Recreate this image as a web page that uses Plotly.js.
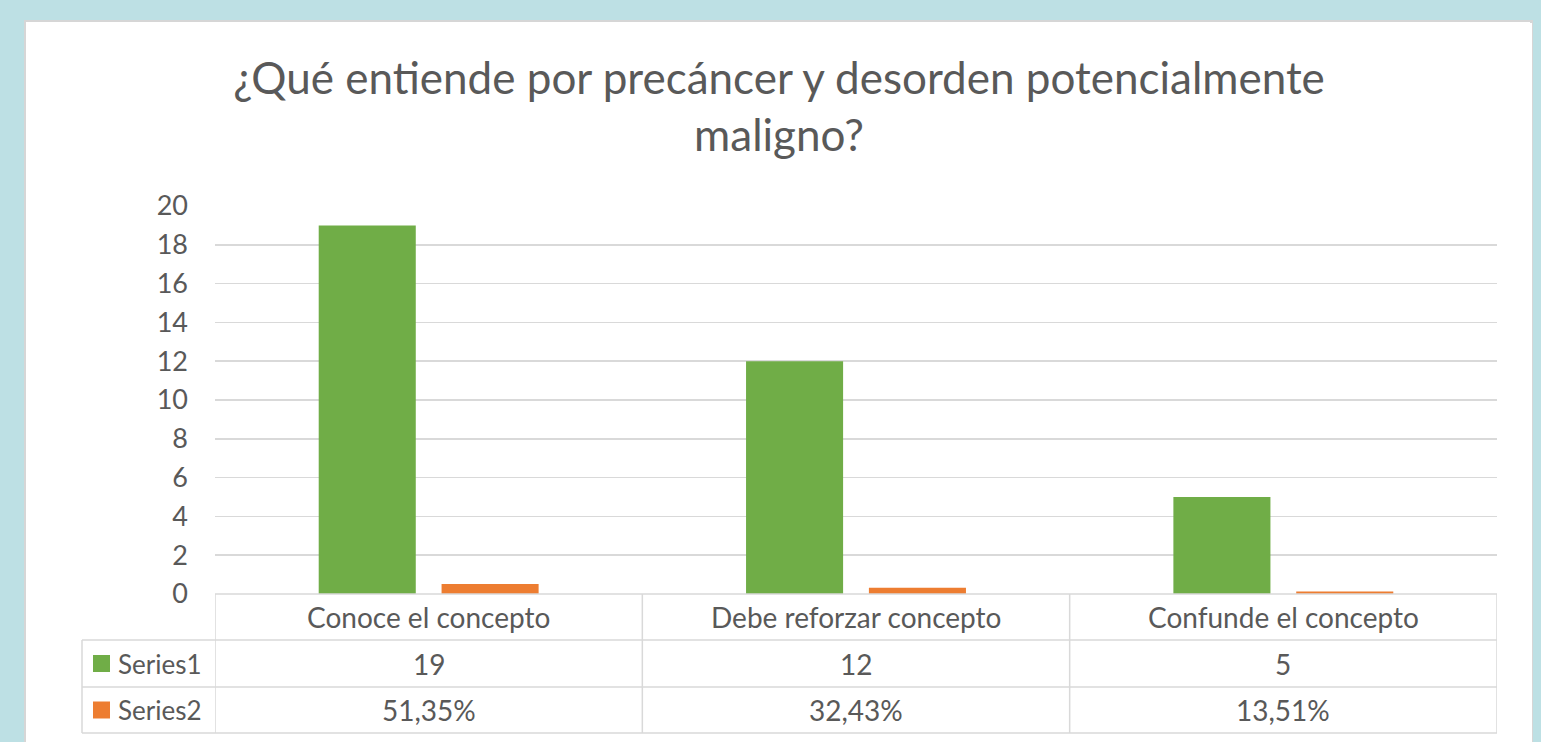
<!DOCTYPE html>
<html>
<head>
<meta charset="utf-8">
<script src="https://cdn.plot.ly/plotly-3.0.1.min.js"></script>
<style>
  html, body { margin:0; padding:0; width:1541px; height:742px; background:#bde0e4; overflow:hidden; }
  #panel { position:absolute; left:24px; top:20px; width:1509px; height:722px; background:#ffffff;
           border-left:2px solid #d6d6d6; border-top:2px solid #d6d6d6; border-right:3px solid #d6d6d6; box-sizing:border-box; }
  #chart { position:absolute; left:26px; top:23px; width:1506px; height:719px; }
</style>
</head>
<body>
<div id="panel"></div>
<div id="chart"></div>
<script>
// ---- data ----
const categories = ["Conoce el concepto", "Debe reforzar concepto", "Confunde el concepto"];
const series1 = [19, 12, 5];
const series2 = [0.5135, 0.3243, 0.1351];
const seriesNames = ["Series1", "Series2"];
const yTicks = [0, 2, 4, 6, 8, 10, 12, 14, 16, 18, 20];
const titleText = "¿Qué entiende por precáncer y desorden potencialmente<br>maligno?";

// ---- styles / geometry ----
const GREEN = "#70ad47", ORANGE = "#ed7d31", TXT = "#595959", LINE = "#d9d9d9";
const FONT = "Lato, 'Open Sans', sans-serif";
const W = 1506, H = 719;           // chart div size (origin at page 26,23)
const OX = 26, OY = 23;
const plotL = 215 - OX, plotR = 1497 - OX, plotT = 206 - OY, plotB = 594 - OY;
const plotW = plotR - plotL, plotH = plotB - plotT;
const px2x = (px) => (px - OX - plotL) / plotW;   // page px -> paper x
const py2y = (py) => (plotB - (py - OY)) / plotH; // page py -> paper y

const rowY = [594, 640, 687, 733];   // page y of table row boundaries
const tableLeft = 82;

const fmtPct = v => (v * 100).toFixed(2).replace(".", ",") + "%";

const traces = [
  { type: "bar", x: categories, y: series1, name: seriesNames[0], marker: { color: GREEN }, hoverinfo: "skip" },
  { type: "bar", x: categories, y: series2, name: seriesNames[1], marker: { color: ORANGE }, hoverinfo: "skip" }
];

const shapes = [];
const lineStyle = { color: LINE, width: 1.5 };
// horizontal table lines
shapes.push({ type: "line", xref: "paper", yref: "paper", x0: 0, x1: 1, y0: py2y(rowY[0]), y1: py2y(rowY[0]), line: lineStyle });
for (let i = 1; i < rowY.length; i++) {
  shapes.push({ type: "line", xref: "paper", yref: "paper", x0: px2x(tableLeft), x1: 1, y0: py2y(rowY[i]), y1: py2y(rowY[i]), line: lineStyle });
}
// vertical table lines at category boundaries
for (let i = 0; i <= categories.length; i++) {
  shapes.push({ type: "line", xref: "x", yref: "paper", x0: i - 0.5, x1: i - 0.5, y0: py2y(rowY[0]), y1: py2y(rowY[3]), line: lineStyle });
}
shapes.push({ type: "line", xref: "paper", yref: "paper", x0: px2x(tableLeft), x1: px2x(tableLeft), y0: py2y(rowY[1]), y1: py2y(rowY[3]), line: lineStyle });
// legend keys
const keyColors = [GREEN, ORANGE];
for (let r = 0; r < 2; r++) {
  const cy = (rowY[r + 1] + rowY[r + 2]) / 2;
  shapes.push({ type: "rect", xref: "paper", yref: "paper", x0: px2x(93), x1: px2x(110),
    y0: py2y(cy + 8.5), y1: py2y(cy - 8.5), fillcolor: keyColors[r], line: { width: 0 } });
}

const annotations = [];
const cellFont = { family: FONT, size: 28, color: TXT };
const rowCenter = i => py2y((rowY[i] + rowY[i + 1]) / 2);
categories.forEach((c, i) => {
  annotations.push({ xref: "x", yref: "paper", x: i, y: rowCenter(0), text: c, showarrow: false, font: cellFont, xanchor: "center", yanchor: "middle" });
  annotations.push({ xref: "x", yref: "paper", x: i, y: rowCenter(1), text: String(series1[i]), showarrow: false, font: cellFont, xanchor: "center", yanchor: "middle" });
  annotations.push({ xref: "x", yref: "paper", x: i, y: rowCenter(2), text: fmtPct(series2[i]), showarrow: false, font: cellFont, xanchor: "center", yanchor: "middle" });
});
seriesNames.forEach((n, r) => {
  annotations.push({ xref: "paper", yref: "paper", x: px2x(116), y: rowCenter(r + 1), text: n, showarrow: false, font: { family: FONT, size: 26, color: TXT }, xanchor: "left", yanchor: "middle" });
});

const layout = {
  width: W, height: H,
  paper_bgcolor: "#ffffff", plot_bgcolor: "#ffffff",
  margin: { l: plotL, r: W - plotR, t: plotT, b: H - plotB, pad: 0 },
  title: { text: titleText, font: { family: FONT, size: 44, color: TXT }, x: 0.5, xref: "container", xanchor: "center", y: 1 - 71 / H, yanchor: "middle", yref: "container" },
  showlegend: false,
  barmode: "group", bargap: 0.425, bargroupgap: 0.21,
  xaxis: { type: "category", showticklabels: false, ticks: "", showgrid: false, zeroline: false, showline: false, range: [-0.5, 2.5], fixedrange: true },
  yaxis: { range: [0, 20], tickvals: yTicks, ticktext: yTicks.map(String), showgrid: true, gridcolor: LINE, gridwidth: 1.5,
           zeroline: false, showline: false, ticks: "", ticklabelstandoff: 26,
           tickfont: { family: FONT, size: 27, color: TXT }, fixedrange: true },
  shapes: shapes, annotations: annotations
};

Plotly.newPlot("chart", traces, layout, { staticPlot: true, displayModeBar: false });
</script>
</body>
</html>
